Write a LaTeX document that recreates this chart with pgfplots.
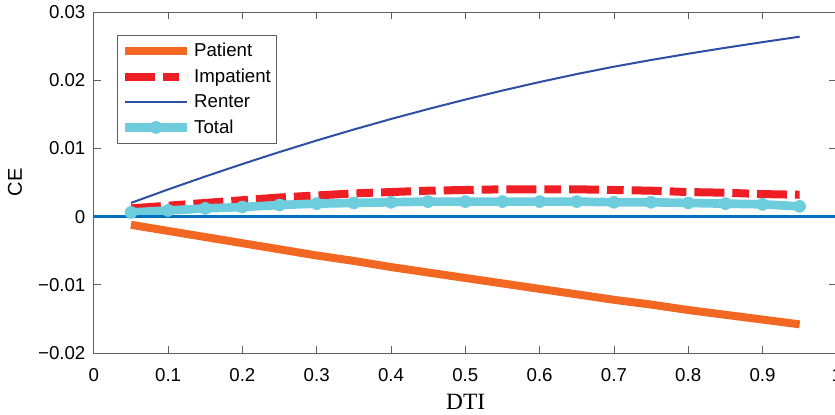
\documentclass[border=0pt]{standalone}
\usepackage{fontspec}
\setmainfont{Liberation Sans}
\newfontfamily\seriffont{Liberation Serif}
\usepackage{pgfplots}
\pgfplotsset{compat=1.18}

\definecolor{cPat}{RGB}{242,104,34}
\definecolor{cImp}{RGB}{237,30,36}
\definecolor{cRen}{RGB}{45,78,162}
\definecolor{cTot}{RGB}{110,205,221}
\definecolor{cZero}{RGB}{0,114,189}
\definecolor{cAx}{RGB}{95,95,95}

\begin{document}
\begin{tikzpicture}
\begin{axis}[
  name=ax,
  scale only axis,
  width=557.25pt, height=255.75pt,
  xmin=0, xmax=1, ymin=-0.02, ymax=0.03,
  scaled x ticks=false, scaled y ticks=false,
  xtick={0,0.1,0.2,0.3,0.4,0.5,0.6,0.7,0.8,0.9,1},
  xticklabels={0,0.1,0.2,0.3,0.4,0.5,0.6,0.7,0.8,0.9,1},
  ytick={-0.02,-0.01,0,0.01,0.02,0.03},
  yticklabels={−0.02,−0.01,0,0.01,0.02,0.03},
  tick align=inside, tick pos=both,
  major tick length=5.5pt,
  axis line style={cAx, line width=0.6pt},
  every tick/.style={cAx, line width=0.6pt},
  tick label style={font=\fontsize{14}{16}\selectfont, text=black},
  xticklabel style={yshift=-8pt},
  yticklabel style={xshift=-2.8pt},
  xlabel={DTI},
  xlabel style={font=\fontsize{17.5}{20}\selectfont\seriffont, at={(axis description cs:0.5005,-0.1437)}, anchor=center},
  ylabel={CE},
  ylabel style={font=\fontsize{15}{18}\selectfont, at={(axis description cs:-0.1061,0.5)}, anchor=center},
  legend style={at={(axis description cs:0.0308,0.9326)}, anchor=north west, draw=cAx, line width=0.6pt,
    font=\fontsize{14}{16}\selectfont, inner xsep=2.5pt, inner ysep=4pt, row sep=3.6pt,
    nodes={inner xsep=1.8pt}},
  legend cell align=left,
  legend image code/.code={\draw[mark repeat=2,mark phase=2,#1] plot coordinates {(0pt,0pt) (23.5pt,0pt) (47pt,0pt)};},
  line join=round,
]
\coordinate (bl) at (rel axis cs:-0.12625,-0.18182);
\coordinate (tr) at (rel axis cs:0.99758,1.03519);

\addplot[cPat, line width=6pt] table {
x y
0.05 -0.0012
0.10 -0.0021
0.15 -0.0030
0.20 -0.0039
0.25 -0.0048
0.30 -0.0057
0.35 -0.0065
0.40 -0.0074
0.45 -0.0082
0.50 -0.0090
0.55 -0.0098
0.60 -0.0106
0.65 -0.0114
0.70 -0.0122
0.75 -0.0129
0.80 -0.0137
0.85 -0.0144
0.90 -0.0151
0.95 -0.0158
};
\addlegendentry{Patient}

\addplot[cImp, line width=6pt, dash pattern=on 22.5pt off 6pt on 12.5pt off 6pt] table {
x y
0.05 0.0012
0.10 0.0016
0.15 0.0020
0.20 0.0024
0.25 0.0028
0.30 0.0031
0.35 0.0034
0.40 0.0036
0.45 0.0038
0.50 0.0039
0.55 0.0040
0.60 0.0040
0.65 0.0040
0.70 0.0039
0.75 0.0038
0.80 0.0036
0.85 0.0035
0.90 0.0033
0.95 0.0032
};
\addlegendentry{Impatient}

\addplot[cRen, line width=1.5pt] table {
x y
0.05 0.00200
0.10 0.00398
0.15 0.00588
0.20 0.00771
0.25 0.00947
0.30 0.01116
0.35 0.01277
0.40 0.01431
0.45 0.01577
0.50 0.01716
0.55 0.01848
0.60 0.01973
0.65 0.02090
0.70 0.02198
0.75 0.02296
0.80 0.02388
0.85 0.02475
0.90 0.02558
0.95 0.02638
};
\addlegendentry{Renter}

\addplot[cTot, line width=6.5pt, mark=*, mark size=4.5pt, mark options={solid, fill=cTot, draw=cTot, line width=0.5pt}] table {
x y
0.05 0.0006
0.10 0.0009
0.15 0.0012
0.20 0.0014
0.25 0.0017
0.30 0.0019
0.35 0.0020
0.40 0.0021
0.45 0.0022
0.50 0.0022
0.55 0.0022
0.60 0.0022
0.65 0.0022
0.70 0.0021
0.75 0.0021
0.80 0.0020
0.85 0.0019
0.90 0.0018
0.95 0.0015
};
\addlegendentry{Total}

\addplot[cZero, line width=2.75pt, forget plot] coordinates {(0,0) (1,0)};
\end{axis}
\pgfresetboundingbox
\path[use as bounding box] (bl) rectangle (tr);
\end{tikzpicture}
\end{document}
